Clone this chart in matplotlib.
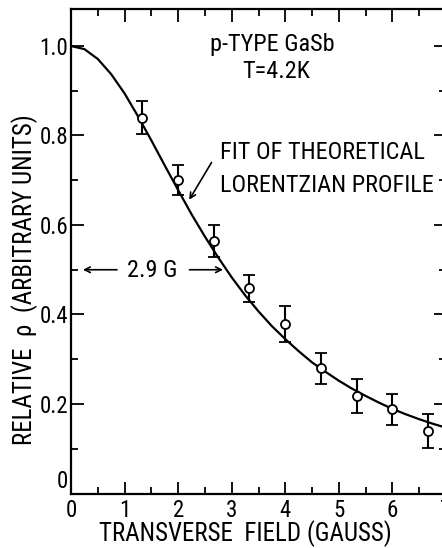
import matplotlib
matplotlib.use("Agg")
import matplotlib.pyplot as plt
from matplotlib import font_manager
from matplotlib.ticker import MultipleLocator

# measured points
field = [1.33, 2.0, 2.67, 3.33, 4.0, 4.67, 5.33, 6.0, 6.67]
rho = [0.84, 0.70, 0.564, 0.459, 0.378, 0.28, 0.218, 0.188, 0.14]
rho_err = [0.036, 0.034, 0.035, 0.03, 0.04, 0.035, 0.037, 0.034, 0.038]

# fitted lorentzian curve
fit_x = [0, 0.25, 0.5, 0.75, 1.0, 1.25, 1.5, 1.75, 2.0, 2.25, 2.5, 2.75, 3.0, 3.25,
         3.5, 3.75, 4.0, 4.25, 4.5, 4.75, 5.0, 5.25, 5.5, 5.75, 6.0, 6.25, 6.5, 6.75, 7.0]
fit_y = [1.000, 0.993, 0.971, 0.937, 0.894, 0.843, 0.789, 0.733, 0.678, 0.624, 0.574,
         0.527, 0.483, 0.443, 0.407, 0.374, 0.345, 0.318, 0.293, 0.272, 0.252, 0.234,
         0.218, 0.203, 0.189, 0.177, 0.166, 0.156, 0.147]

# narrow lettering like the original, take what is installed
names = {f.name for f in font_manager.fontManager.ttflist}
narrow = ["Roboto Condensed", "Liberation Sans Narrow", "Archivo Narrow", "PT Sans Narrow",
          "Encode Sans Condensed", "Open Sans Condensed", "Barlow Semi Condensed",
          "IBM Plex Sans Condensed", "Fira Sans Condensed"]
pick = [n for n in narrow if n in names]
plt.rcParams["font.family"] = pick[:1] + ["DejaVu Sans"]
k = 1.0 if pick else 0.8
fs = 17.5 * k
ts = 16.5 * k

fig = plt.figure(figsize=(4.42, 5.48), dpi=100)
# axes runs a bit past the right edge like the scanned original
ax = fig.add_axes([71 / 442, 1 - 493.5 / 548, 375 / 442, 484.2 / 548])

ax.plot(fit_x, fit_y, color="black", lw=1.6, zorder=2)
ax.errorbar(field, rho, yerr=rho_err, fmt="o", ms=6.5, mfc="white", mec="black", mew=1.3,
            ecolor="black", elinewidth=1.5, capsize=4, capthick=1.5, zorder=3)

ax.set_xlim(0, 7)
ax.set_ylim(0, 1.082)
ax.xaxis.set_major_locator(MultipleLocator(1))
ax.xaxis.set_minor_locator(MultipleLocator(0.5))
ax.yaxis.set_minor_locator(MultipleLocator(0.1))
ax.set_yticks([0, 0.2, 0.4, 0.6, 0.8, 1.0])
ax.set_yticklabels(["0", "0.2", "0.4", "0.6", "0.8", "1.0"])
ax.tick_params(which="both", direction="in", top=True, right=True, width=1.3, labelsize=ts)
ax.tick_params(which="major", length=9)
ax.tick_params(which="minor", length=5)
ax.tick_params(axis="x", which="major", pad=4)
ax.tick_params(axis="y", which="major", pad=2)
ax.get_yticklabels()[0].set_va("bottom")
for s in ax.spines.values():
    s.set_linewidth(1.6)

ax.text(3.75, 1.004, "p-TYPE GaSb", fontsize=fs, ha="center", va="center")
ax.text(3.84, 0.942, "T=4.2K", fontsize=fs, ha="center", va="center")
ax.text(2.78, 0.763, "FIT OF THEORETICAL", fontsize=fs, ha="left", va="center")
ax.text(2.78, 0.689, "LORENTZIAN PROFILE", fontsize=fs, ha="left", va="center")
ax.annotate("", xy=(2.18, 0.651), xytext=(2.65, 0.745),
            arrowprops=dict(arrowstyle="->", color="black", lw=1.2))

# 2.9 G half width marker
ax.text(1.52, 0.498, "2.9 G", fontsize=fs, ha="center", va="center")
ax.annotate("", xy=(0.17, 0.5), xytext=(0.91, 0.5),
            arrowprops=dict(arrowstyle="->", color="black", lw=1.2))
ax.annotate("", xy=(2.89, 0.5), xytext=(2.16, 0.5),
            arrowprops=dict(arrowstyle="->", color="black", lw=1.2))

fig.text(245 / 442, 1 - 534 / 548, "TRANSVERSE  FIELD (GAUSS)", fontsize=18 * k,
         ha="center", va="center")
fig.text(25 / 442, 1 - 280 / 548, "RELATIVE  ρ  (ARBITRARY UNITS)", fontsize=18 * k,
         ha="center", va="center", rotation=90)

fig.savefig("out.png", dpi=100)
